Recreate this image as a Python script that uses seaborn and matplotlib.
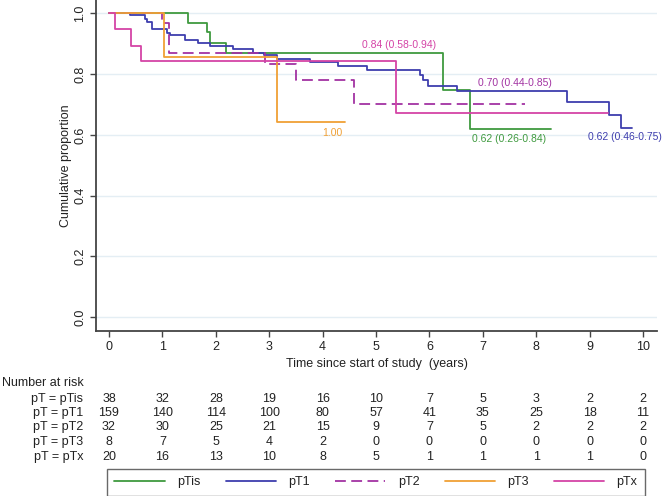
import numpy as np
import pandas as pd
import matplotlib
matplotlib.use("Agg")
import matplotlib.pyplot as plt
import matplotlib.transforms as mtransforms
import seaborn as sns

# Kaplan-Meier step curves
groups = ["pTis", "pT1", "pT2", "pT3", "pTx"]

t_pTis = [0, 1.48, 1.84, 1.90, 2.19, 6.25, 6.76, 8.28]
s_pTis = [1.0, 0.969, 0.938, 0.904, 0.869, 0.746, 0.620, 0.620]

t_pT1 = [0, 0.39, 0.67, 0.72, 0.80, 1.08, 1.14, 1.42, 1.67, 1.89, 2.33, 2.70,
         2.90, 3.14, 3.76, 4.29, 4.83, 5.82, 5.88, 5.98, 6.51, 8.57, 9.37, 9.59, 9.79]
s_pT1 = [1.0, 0.995, 0.980, 0.970, 0.948, 0.935, 0.930, 0.913, 0.902, 0.891, 0.883, 0.871,
         0.862, 0.849, 0.839, 0.828, 0.814, 0.797, 0.780, 0.761, 0.745, 0.707, 0.666, 0.624, 0.624]

t_pT2 = [0, 1.00, 1.13, 2.92, 3.50, 4.58, 7.79]
s_pT2 = [1.0, 0.968, 0.871, 0.834, 0.779, 0.700, 0.700]

t_pT3 = [0, 1.03, 3.14, 4.42]
s_pT3 = [1.0, 0.856, 0.642, 0.642]

t_pTx = [0, 0.11, 0.41, 0.60, 5.37, 9.34]
s_pTx = [1.0, 0.948, 0.893, 0.842, 0.672, 0.672]

# end-of-curve estimates shown as labels
labels = ["0.62 (0.26-0.84)", "0.62 (0.46-0.75)", "0.70 (0.44-0.85)", "1.00", "0.84 (0.58-0.94)"]

# number at risk table
risk_times = [0, 1, 2, 3, 4, 5, 6, 7, 8, 9, 10]
risk_pTis = [38, 32, 28, 19, 16, 10, 7, 5, 3, 2, 2]
risk_pT1 = [159, 140, 114, 100, 80, 57, 41, 35, 25, 18, 11]
risk_pT2 = [32, 30, 25, 21, 15, 9, 7, 5, 2, 2, 2]
risk_pT3 = [8, 7, 5, 4, 2, 0, 0, 0, 0, 0, 0]
risk_pTx = [20, 16, 13, 10, 8, 5, 1, 1, 1, 1, 0]

colors = {"pTis": "#3f9a3f", "pT1": "#3e3eae", "pT2": "#a233a2",
          "pT3": "#f0a035", "pTx": "#d444a6"}

frames = []
for g, t, s in zip(groups, [t_pTis, t_pT1, t_pT2, t_pT3, t_pTx],
                   [s_pTis, s_pT1, s_pT2, s_pT3, s_pTx]):
    frames.append(pd.DataFrame({"time": t, "surv": s, "group": g}))
df = pd.concat(frames, ignore_index=True)

sns.set_theme(style="white")
plt.rcParams["font.family"] = ["Liberation Sans", "DejaVu Sans"]
txt = "#222222"

fig = plt.figure(figsize=(6.66, 4.96), dpi=100)
ax = fig.add_axes([96 / 666, 165 / 496, 561 / 666, 331 / 496])

# light horizontal grid
for yv in np.arange(0, 1.01, 0.2):
    ax.axhline(yv, color="#e4eef4", lw=1.0, zorder=0)

dashes = {"pTis": "", "pT1": "", "pT2": (6, 3), "pT3": "", "pTx": ""}
sns.lineplot(data=df, x="time", y="surv", hue="group", style="group",
             hue_order=groups, style_order=groups, palette=colors, dashes=dashes,
             drawstyle="steps-post", estimator=None, sort=False, lw=1.3,
             legend=False, ax=ax)

# labels near the curve ends
label_pos = {"pTis": (6.79, 0.587), "pT1": (8.97, 0.593), "pT2": (6.90, 0.771),
             "pT3": (3.99, 0.606), "pTx": (4.74, 0.896)}
for g, lab in zip(groups, labels):
    x, y = label_pos[g]
    ax.text(x, y, lab, color=colors[g], fontsize=7.5, ha="left", va="center")

ax.set_xlim(-0.243, 10.26)
ax.set_ylim(-0.046, 1.044)
ax.set_xticks(risk_times)
ax.set_yticks(np.arange(0, 1.01, 0.2))
ax.set_yticklabels([f"{v:.1f}" for v in np.arange(0, 1.01, 0.2)], rotation=90, va="center")
ax.tick_params(axis="both", labelsize=9, length=4, width=1, color="#444444",
               labelcolor=txt, direction="out", bottom=True, left=True, pad=3)
for sp in ["top", "right"]:
    ax.spines[sp].set_visible(False)
for sp in ["left", "bottom"]:
    ax.spines[sp].set_color("#444444")
    ax.spines[sp].set_linewidth(1.3)
ax.set_xlabel("Time since start of study  (years)", fontsize=9, labelpad=4, color=txt)
ax.set_ylabel("Cumulative proportion", fontsize=9, labelpad=2, color=txt)

# number at risk table under the axes
trans = mtransforms.blended_transform_factory(ax.transData, fig.transFigure)
fig.text(2 / 666, 1 - 383 / 496, "Number at risk", fontsize=9, ha="left", va="center", color=txt)
row_y = [399, 413, 427, 442, 457]
for g, counts, yp in zip(groups, [risk_pTis, risk_pT1, risk_pT2, risk_pT3, risk_pTx], row_y):
    fig.text(83 / 666, 1 - yp / 496, f"pT = {g}", fontsize=9, ha="right", va="center", color=txt)
    for tt, c in zip(risk_times, counts):
        fig.text(tt, 1 - yp / 496, str(c), fontsize=9, ha="center", va="center",
                 transform=trans, color=txt)

# legend box at the bottom
handles = [plt.Line2D([], [], color=colors[g], lw=1.3,
                      linestyle=(0, (6, 3)) if g == "pT2" else "-") for g in groups]
leg = fig.legend(handles, groups, loc="lower left", ncol=5, mode="expand",
                 bbox_to_anchor=(107 / 666, 0.0, 538 / 666, 27 / 496),
                 fontsize=9, frameon=True, fancybox=False, handlelength=4.0,
                 borderaxespad=0.0, handletextpad=1.0, borderpad=0.6, labelcolor=txt)
leg.get_frame().set_edgecolor("#444444")
leg.get_frame().set_linewidth(1.0)

fig.savefig("out.png", dpi=100)
